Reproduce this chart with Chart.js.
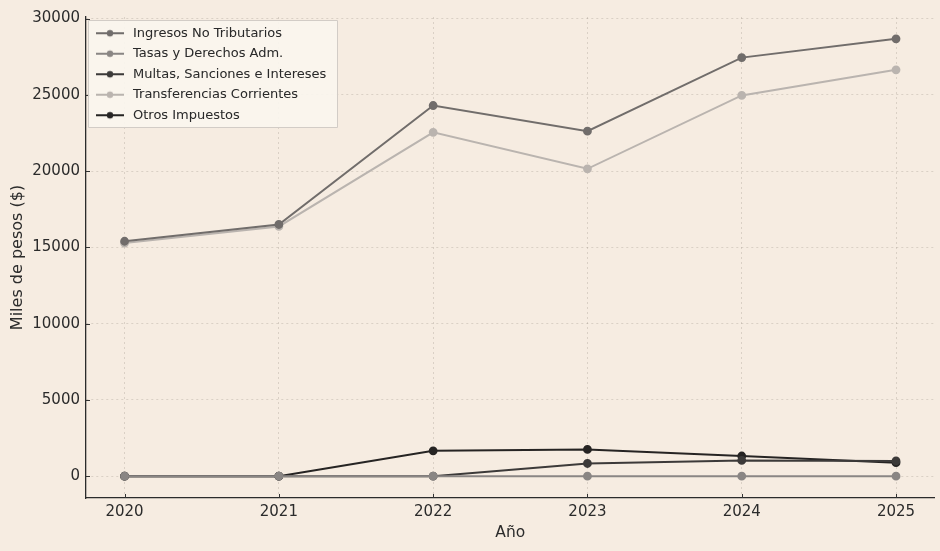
<!DOCTYPE html>
<html lang="es">
    <head>
        <meta charset="UTF-8">
        <title>Ingresos</title>
        <style>
            html, body { margin: 0; padding: 0; background: #f6ece1; }
            .chart-container { position: relative; width: 940px; height: 551px; }
        </style>
    </head>
    <body>
        <div class="chart-container">
            <canvas id="myChart" width="940" height="551"></canvas>
        </div>
    </body>
    <script src="https://cdn.jsdelivr.net/npm/chart.js@4.4.0/dist/chart.umd.min.js"></script>
    <script>
        // datos (miles de pesos)
        const years = [2020, 2021, 2022, 2023, 2024, 2025]
        const ingresosNoTributarios = [15400, 16500, 24300, 22620, 27440, 28670]
        const tasasDerechos = [0, 0, 0, 0, 0, 0]
        const multasSanciones = [0, 0, 0, 830, 1030, 1000]
        const transferencias = [15280, 16370, 22540, 20150, 24960, 26640]
        const otrosImpuestos = [0, 0, 1660, 1750, 1320, 880]
        const yTicks = [0, 5000, 10000, 15000, 20000, 25000, 30000]

        const seriesNames = ['Ingresos No Tributarios', 'Tasas y Derechos Adm.', 'Multas, Sanciones e Intereses', 'Transferencias Corrientes', 'Otros Impuestos']
        const seriesData = [ingresosNoTributarios, tasasDerechos, multasSanciones, transferencias, otrosImpuestos]
        const seriesColors = ['#716d6b', '#8a8684', '#3c3a39', '#bab4af', '#262423']

        // margenes tipo matplotlib (5%)
        const allVals = seriesData.flat()
        const yMax = Math.max(...allVals), yMin = Math.min(...allVals)
        const ySpan = yMax - yMin
        const xSpan = years[years.length - 1] - years[0]

        // icono de leyenda: linea + punto
        const handles = seriesColors.map(c => {
            const cv = document.createElement('canvas')
            cv.width = 28; cv.height = 10
            const g = cv.getContext('2d')
            g.strokeStyle = c; g.lineWidth = 2
            g.beginPath(); g.moveTo(0, 5); g.lineTo(28, 5); g.stroke()
            g.fillStyle = c
            g.beginPath(); g.arc(14, 5, 3.2, 0, Math.PI * 2); g.fill()
            return cv
        })

        const datasets = seriesNames.map((name, i) => ({
            label: name,
            data: years.map((y, j) => ({x: y, y: seriesData[i][j]})),
            borderColor: seriesColors[i],
            backgroundColor: seriesColors[i],
            borderWidth: 2,
            pointRadius: 3.4,
            pointHoverRadius: 3.4,
            tension: 0
        }))

        const paperBg = {
            id: 'paperBg',
            beforeDraw(chart) {
                const c = chart.ctx
                c.save()
                c.fillStyle = '#f6ece1'
                c.fillRect(0, 0, chart.width, chart.height)
                c.restore()
            }
        }

        // ticks hacia adentro + caja de leyenda encima de la grilla
        const extras = {
            id: 'extras',
            beforeDatasetsDraw(chart) {
                const c = chart.ctx
                const a = chart.chartArea
                c.save()
                c.strokeStyle = '#333'
                c.lineWidth = 1
                chart.scales.y.ticks.forEach(t => {
                    const y = Math.round(chart.scales.y.getPixelForValue(t.value)) + 0.5
                    c.beginPath(); c.moveTo(a.left, y); c.lineTo(a.left + 4, y); c.stroke()
                })
                chart.scales.x.ticks.forEach(t => {
                    const x = Math.round(chart.scales.x.getPixelForValue(t.value)) + 0.5
                    c.beginPath(); c.moveTo(x, a.bottom); c.lineTo(x, a.bottom - 4); c.stroke()
                })
                const hb = chart.legend.legendHitBoxes
                if (hb && hb.length) {
                    const l = Math.min(...hb.map(h => h.left)) - 6
                    const t = Math.min(...hb.map(h => h.top)) - 7
                    const r = Math.max(...hb.map(h => h.left + h.width)) + 10
                    const b = Math.max(...hb.map(h => h.top + h.height)) + 5
                    c.fillStyle = 'rgba(250,245,238,0.92)'
                    c.strokeStyle = '#d2ccc6'
                    c.lineWidth = 1
                    c.beginPath()
                    c.rect(Math.round(l) + 0.5, Math.round(t) + 0.5, Math.round(r - l), Math.round(b - t))
                    c.fill(); c.stroke()
                }
                c.restore()
                chart.legend.draw()
            }
        }

        const gridStyle = { color: 'rgba(120,110,100,0.22)', lineWidth: 1, drawTicks: false }

        const ctx = document.getElementById('myChart')

        new Chart(ctx, {
            type: 'line',
            data: { datasets: datasets },
            plugins: [paperBg, extras],
            options: {
                responsive: false,
                animation: false,
                layout: { padding: { left: 0, top: 17, right: 5, bottom: 0 } },
                font: { family: 'DejaVu Sans' },
                plugins: {
                    tooltip: { enabled: false },
                    legend: {
                        position: 'chartArea',
                        align: 'start',
                        title: { display: true, text: ' ', font: { size: 1 }, padding: 9 },
                        labels: {
                            usePointStyle: true,
                            pointStyleWidth: 33,
                            boxHeight: 10,
                            padding: 7.5,
                            color: '#2a2a2a',
                            font: { family: 'DejaVu Sans', size: 13 },
                            generateLabels: (chart) => Chart.defaults.plugins.legend.labels.generateLabels(chart)
                                .map((it, i) => Object.assign(it, { pointStyle: handles[it.datasetIndex] }))
                        }
                    }
                },
                scales: {
                    x: {
                        type: 'linear',
                        min: years[0] - 0.05 * xSpan,
                        max: years[years.length - 1] + 0.05 * xSpan,
                        afterBuildTicks: (s) => { s.ticks = years.map(v => ({ value: v })) },
                        afterFit: (s) => { s.height = 53 },
                        grid: gridStyle,
                        border: { color: '#2b2b2b', width: 1.3, dash: [2, 3] },
                        ticks: { padding: 5, color: '#2b2b2b', font: { size: 15 }, callback: v => String(v) },
                        title: { display: true, text: 'Año', color: '#2b2b2b', font: { size: 15.5 }, padding: { top: 0, bottom: 9 } }
                    },
                    y: {
                        min: yMin - 0.05 * ySpan,
                        max: yMax + 0.05 * ySpan,
                        afterBuildTicks: (s) => { s.ticks = yTicks.map(v => ({ value: v })) },
                        afterFit: (s) => { s.width = 86 },
                        grid: gridStyle,
                        border: { color: '#2b2b2b', width: 1.3, dash: [2, 3] },
                        ticks: { padding: 6, color: '#2b2b2b', font: { size: 15 }, callback: v => String(v) },
                        title: { display: true, text: 'Miles de pesos ($)', color: '#2b2b2b', font: { size: 16 }, padding: { top: 8, bottom: 0 } }
                    }
                }
            }
        })
    </script>
</html>
